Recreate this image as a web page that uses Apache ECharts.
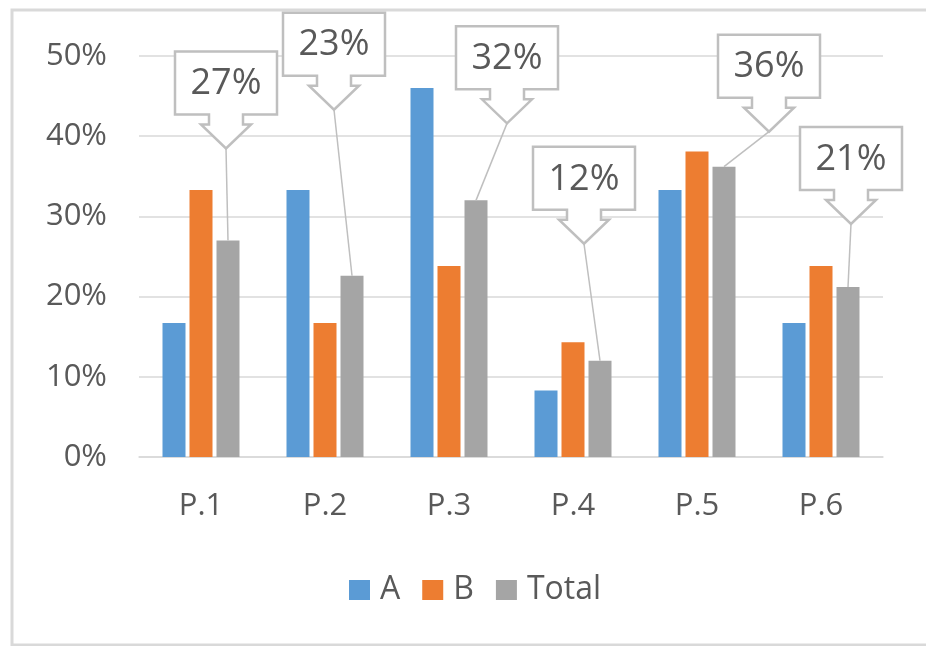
<!DOCTYPE html>
<html>
<head>
<meta charset="utf-8">
<script src="https://cdn.jsdelivr.net/npm/echarts@6/dist/echarts.min.js"></script>
<style>
html,body{margin:0;padding:0;background:#fff;overflow:hidden;}
#c{width:926px;height:646px;}
</style>
</head>
<body>
<div id="c"></div>
<script>
// ---- data ----
const categories = ['P.1', 'P.2', 'P.3', 'P.4', 'P.5', 'P.6'];
const seriesA = [0.167, 0.333, 0.46, 0.083, 0.333, 0.167];
const seriesB = [0.333, 0.167, 0.238, 0.143, 0.381, 0.238];
const seriesTotal = [0.27, 0.226, 0.32, 0.12, 0.362, 0.212];
const yTicks = [0, 0.1, 0.2, 0.3, 0.4, 0.5];

// ---- layout of callouts (tip offset from Total bar top, px) ----
const calloutOffsets = [[-2, -92], [-18, -166], [31, -77], [-16, -117], [45, -35], [3, -63]];

const FONT = '"Open Sans", "Noto Sans", sans-serif';
const TXT = '#595959';
const BAR_W = 23, BAR_GAP = 4;

const chart = echarts.init(document.getElementById('c'), null, {renderer: 'canvas'});

function pct(v) { return Math.round(v * 100) + '%'; }

function renderCallout(params, api) {
  const i = api.value(0);
  const v = api.value(1);
  const p = api.coord([i, v]);
  const bx = p[0] + BAR_W + BAR_GAP;
  const by = p[1];
  const off = calloutOffsets[params.dataIndex];
  const tx = bx + off[0], ty = by + off[1];
  const W = 102, H = 63, sw = 17, sh = 10, hw = 25, hh = 24;
  const bottom = ty - hh - sh, top = bottom - H;
  const pts = [
    [tx - W / 2, top], [tx + W / 2, top], [tx + W / 2, bottom], [tx + sw, bottom],
    [tx + sw, bottom + sh], [tx + hw, bottom + sh], [tx, ty], [tx - hw, bottom + sh],
    [tx - sw, bottom + sh], [tx - sw, bottom], [tx - W / 2, bottom]
  ];
  return {
    type: 'group',
    children: [
      {type: 'line', shape: {x1: tx, y1: ty, x2: bx, y2: by},
       style: {stroke: '#BFBFBF', lineWidth: 1.5}},
      {type: 'polygon', shape: {points: pts},
       style: {fill: '#fff', stroke: '#BFBFBF', lineWidth: 2.5}},
      {type: 'text', style: {text: pct(v), x: tx, y: top + H / 2 + 1, align: 'center',
       verticalAlign: 'middle', fill: TXT, font: '36px ' + FONT}}
    ]
  };
}

const option = {
  backgroundColor: '#fff',
  animation: false,
  textStyle: {fontFamily: FONT},
  graphic: [{
    type: 'rect', z: -10,
    shape: {x: 12, y: 10, width: 1000, height: 635},
    style: {fill: 'none', stroke: '#D9D9D9', lineWidth: 3}
  }],
  grid: {left: 139, right: 43, top: 56, bottom: 189, containLabel: false},
  legend: {
    data: ['A', 'B', 'Total'],
    left: 349, top: 574, padding: 0,
    icon: 'rect', itemWidth: 21, itemHeight: 20, itemGap: 22,
    textStyle: {fontSize: 32, color: TXT, fontFamily: FONT, padding: [0, 0, 0, 5]}
  },
  xAxis: {
    type: 'category', data: categories,
    axisLine: {lineStyle: {color: '#D9D9D9', width: 1.5}},
    axisTick: {show: false},
    axisLabel: {fontSize: 31, color: TXT, margin: 34, fontFamily: FONT}
  },
  yAxis: {
    type: 'value', min: 0, max: 0.5, interval: 0.1,
    axisLine: {show: false}, axisTick: {show: false},
    splitLine: {lineStyle: {color: '#D9D9D9', width: 1.5}},
    axisLabel: {fontSize: 31, color: TXT, margin: 32, fontFamily: FONT,
      formatter: function (v) { return yTicks.indexOf(Math.round(v * 10) / 10) >= 0 ? pct(v) : ''; }}
  },
  series: [
    {name: 'A', type: 'bar', data: seriesA, barWidth: BAR_W, barGap: (BAR_GAP / BAR_W * 100) + '%',
     itemStyle: {color: '#5B9BD5'}},
    {name: 'B', type: 'bar', data: seriesB, barWidth: BAR_W, itemStyle: {color: '#ED7D31'}},
    {name: 'Total', type: 'bar', data: seriesTotal, barWidth: BAR_W, itemStyle: {color: '#A5A5A5'}},
    {type: 'custom', name: 'callouts', z: 10, renderItem: renderCallout,
     data: seriesTotal.map(function (v, i) { return [i, v]; }),
     encode: {x: 0, y: 1}, silent: true, clip: false}
  ]
};
chart.setOption(option);
</script>
</body>
</html>
